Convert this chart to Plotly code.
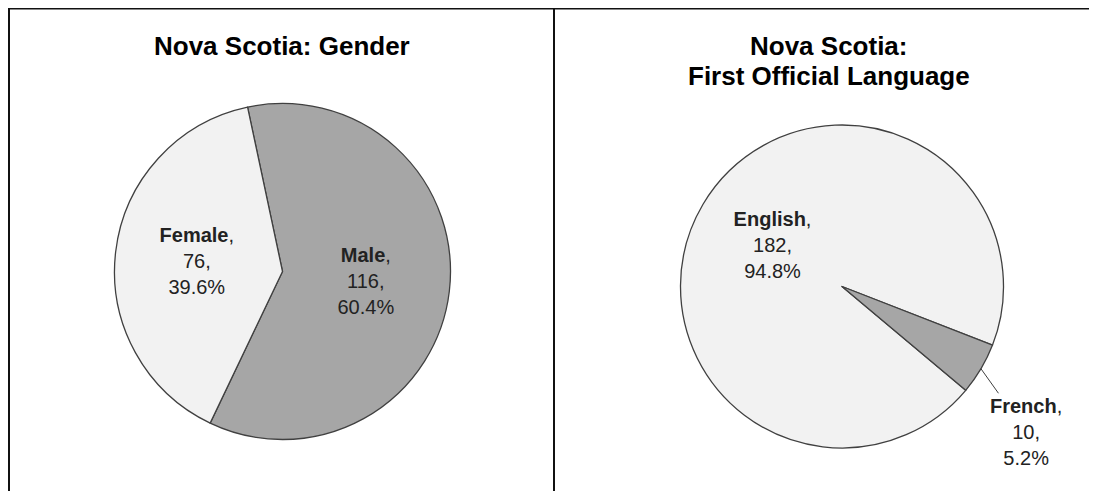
import math
import plotly.graph_objects as go

# Nova Scotia respondents
gender_labels = ['Male', 'Female']
gender_values = [116, 76]

language_labels = ['English', 'French']
language_values = [182, 10]

# the page body keeps an 8px margin, so the figure starts at (8, 8)
OX, OY = 8, 8
W, H = 1097 - OX, 491 - OY
FONT = 'Arial, Liberation Sans, sans-serif'
LIGHT = '#f2f2f2'
DARK = '#a6a6a6'
EDGE = '#404040'


def fx(x):
    return (x - OX) / W


def fy(y):
    return 1 - (y - OY) / H


def domain(cx, cy, r):
    return dict(x=[fx(cx - r), fx(cx + r)], y=[fy(cy + r), fy(cy - r)])


gender_rot = -12
lang_rot = 130
lang_c = (842, 286.5, 161.5)

fig = go.Figure()

fig.add_trace(go.Pie(
    labels=gender_labels, values=gender_values,
    sort=False, direction='clockwise', rotation=gender_rot,
    domain=domain(282.5, 271.5, 168),
    marker=dict(colors=[DARK, LIGHT], line=dict(color=EDGE, width=1.3)),
    texttemplate='<b>%{label}</b>,<br>%{value},<br>%{percent:.1%}',
    textposition='inside', insidetextorientation='horizontal',
    textfont=dict(family=FONT, size=20, color='#222'),
    showlegend=False, hoverinfo='label+value+percent',
))

fig.add_trace(go.Pie(
    labels=language_labels, values=language_values,
    sort=False, direction='clockwise', rotation=lang_rot,
    domain=domain(*lang_c),
    marker=dict(colors=[LIGHT, DARK], line=dict(color=EDGE, width=1.3)),
    texttemplate=['<b>%{label}</b>,<br>%{value},<br>%{percent:.1%}', ''],
    textposition='inside', insidetextorientation='horizontal',
    textfont=dict(family=FONT, size=20, color='#222'),
    showlegend=False, hoverinfo='label+value+percent',
))

# French label sits outside with a leader line to the slice edge
total = sum(language_values)
start = lang_rot + 360 * language_values[0] / total
mid = math.radians(start + 180 * language_values[1] / total)
cx, cy, r = lang_c
px = cx + r * math.sin(mid)
py = cy - r * math.cos(mid)
pct = 100 * language_values[1] / total

title_font = dict(family=FONT, size=26, color='#000')
annotations = [
    dict(x=fx(282), y=fy(46), xref='paper', yref='paper',
         xanchor='center', yanchor='middle',
         text='<b>Nova Scotia: Gender</b>', showarrow=False, font=title_font),
    dict(x=fx(829), y=fy(46), xref='paper', yref='paper',
         xanchor='center', yanchor='middle',
         text='<b>Nova Scotia:</b>', showarrow=False, font=title_font),
    dict(x=fx(829), y=fy(76), xref='paper', yref='paper',
         xanchor='center', yanchor='middle',
         text='<b>First Official Language</b>', showarrow=False, font=title_font),
    dict(x=fx(px), y=fy(py), xref='paper', yref='paper',
         text=f'<b>{language_labels[1]}</b>,<br>{language_values[1]},<br>{pct:.1f}%',
         showarrow=True, arrowhead=0, arrowwidth=1, arrowcolor=EDGE,
         ax=45, ay=63, standoff=0,
         font=dict(family=FONT, size=20, color='#222')),
]

line = dict(color='#111', width=2)
shapes = [
    dict(type='line', xref='paper', yref='paper', x0=0, x1=1, y0=fy(8.5), y1=fy(8.5), line=line),
    dict(type='line', xref='paper', yref='paper', x0=fx(9), x1=fx(9), y0=0, y1=fy(8.5), line=line),
    dict(type='line', xref='paper', yref='paper', x0=fx(554), x1=fx(554), y0=0, y1=fy(8.5), line=line),
]

fig.update_layout(
    width=W, height=H,
    margin=dict(l=0, r=0, t=0, b=0),
    paper_bgcolor='white', plot_bgcolor='white',
    font=dict(family=FONT),
    annotations=annotations, shapes=shapes,
)

fig.write_html('out.html')
